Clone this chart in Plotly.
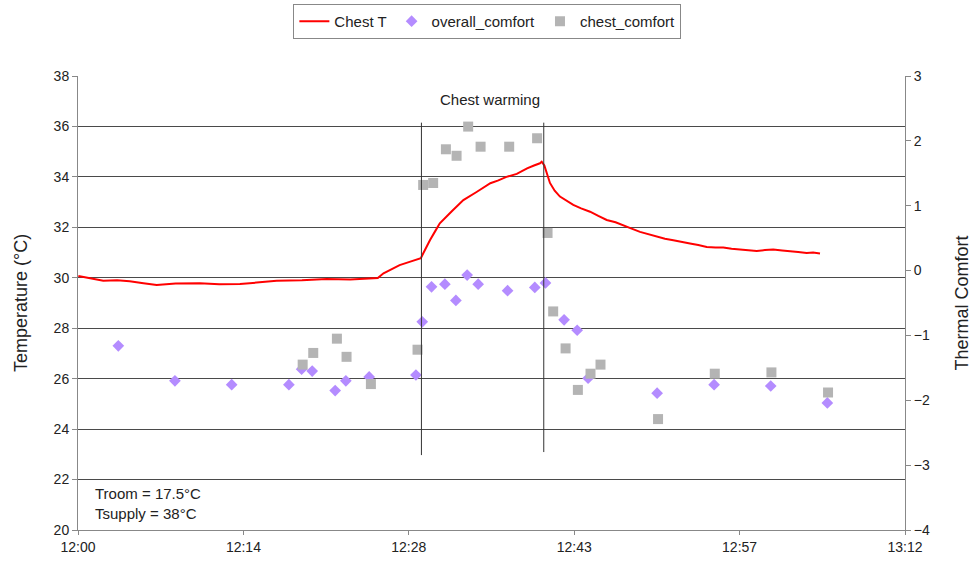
import plotly.graph_objects as go

# ---- data (minutes after 12:00) ----
chest_t_min = [0.03, 1.0, 2.2, 3.4, 4.5, 5.7, 6.85, 8.5, 10.6, 12.3, 14.1, 15.8, 17.3, 19.5,
               21.65, 23.7, 25.7, 26.1, 26.6, 27.3, 28.0, 28.8, 29.6, 29.85, 30.06, 30.35,
               30.65, 31.1, 31.5, 32.5, 33.55, 34.7, 35.9, 36.6, 37.3, 38.2, 39.1, 39.7,
               40.22, 40.37, 40.6, 41.09, 41.5, 41.96, 42.5, 43.12, 43.8, 44.58, 45.3, 46.03,
               46.8, 47.48, 48.2, 48.93, 49.7, 50.38, 51.1, 51.83, 52.5, 53.28, 54.0, 54.74,
               55.5, 56.18, 56.9, 57.64, 58.4, 59.09, 59.8, 60.53, 61.3, 62.0, 62.7, 63.44,
               64.0, 64.6]
chest_t_val = [30.07, 29.98, 29.88, 29.9, 29.86, 29.78, 29.71, 29.77, 29.78, 29.74, 29.75, 29.82,
               29.88, 29.9, 29.95, 29.93, 29.98, 29.99, 30.18, 30.35, 30.5, 30.62, 30.72, 30.78,
               30.97, 31.25, 31.5, 31.85, 32.16, 32.62, 33.08, 33.4, 33.75, 33.86, 34.0, 34.12,
               34.34, 34.45, 34.54, 34.6, 34.45, 33.76, 33.45, 33.22, 33.05, 32.89, 32.75, 32.62,
               32.45, 32.29, 32.2, 32.09, 31.95, 31.82, 31.72, 31.65, 31.55, 31.49, 31.42, 31.36,
               31.3, 31.22, 31.2, 31.2, 31.15, 31.12, 31.08, 31.06, 31.1, 31.12, 31.08, 31.06,
               31.02, 30.98, 31.0, 30.96]

overall_min = [3.51, 8.44, 13.38, 18.36, 19.47, 20.39, 22.39, 23.32, 25.35, 29.42, 29.97, 30.78,
               31.94, 32.90, 33.88, 34.84, 37.40, 39.77, 40.70, 42.32, 43.46, 44.41, 50.42,
               55.38, 60.31, 65.24]
overall_val = [-1.16, -1.70, -1.76, -1.76, -1.52, -1.55, -1.85, -1.70, -1.64, -1.61, -0.79, -0.25,
               -0.21, -0.46, -0.07, -0.21, -0.31, -0.26, -0.19, -0.76, -0.92, -1.66, -1.89,
               -1.76, -1.78, -2.04]

chestc_min = [19.56, 20.48, 22.54, 23.38, 25.50, 29.56, 30.05, 30.92, 32.03, 32.96, 33.97, 35.05,
              37.54, 39.97, 40.88, 41.37, 42.45, 43.52, 44.62, 45.49, 50.50, 55.44, 60.37, 65.30]
chestc_val = [-1.45, -1.27, -1.05, -1.33, -1.75, -1.22, 1.32, 1.35, 1.87, 1.77, 2.22, 1.91,
              1.91, 2.04, 0.58, -0.63, -1.20, -1.84, -1.59, -1.45, -2.29, -1.59, -1.57, -1.88]

x_tick_labels = ["12:00", "12:14", "12:28", "12:43", "12:57", "13:12"]
x_span = 72.0
warming_start = 29.9
warming_end = 40.55
marker_line_bottom = [22.97, 23.09]
marker_line_top = 36.15

FONT = "Liberation Sans, Arial, sans-serif"

fig = go.Figure()
fig.add_trace(go.Scatter(x=chest_t_min, y=chest_t_val, mode="lines", name="Chest T",
                         line=dict(color="#ff0000", width=2), yaxis="y"))
fig.add_trace(go.Scatter(x=overall_min, y=overall_val, mode="markers", name="overall_comfort",
                         marker=dict(symbol="diamond", size=9, color="#b48cff"), yaxis="y2"))
fig.add_trace(go.Scatter(x=chestc_min, y=chestc_val, mode="markers", name="chest_comfort",
                         marker=dict(symbol="square", size=10, color="#b4b4b4"), yaxis="y2"))

tickvals = [i * x_span / (len(x_tick_labels) - 1) for i in range(len(x_tick_labels))]

shapes = []
for xv, yb in zip([warming_start, warming_end], marker_line_bottom):
    shapes.append(dict(type="line", xref="x", yref="y", x0=xv, x1=xv, y0=yb, y1=marker_line_top,
                       line=dict(color="#333333", width=1)))

fig.update_layout(
    width=974, height=567,
    margin=dict(l=78, r=69, t=76, b=37, autoexpand=False),
    paper_bgcolor="white", plot_bgcolor="white",
    font=dict(family=FONT, size=15, color="#222222"),
    showlegend=True,
    legend=dict(orientation="h", x=0.495, xanchor="center", yref="container", y=0.993,
                yanchor="top", bordercolor="#888888", borderwidth=1, font=dict(size=15),
                itemwidth=30, tracegroupgap=0),
    xaxis=dict(range=[0, x_span], tickvals=tickvals, ticktext=x_tick_labels,
               showgrid=False, zeroline=False, showline=True, linecolor="#888888",
               ticks="outside", ticklen=4, tickcolor="#888888", tickfont=dict(size=14)),
    yaxis=dict(range=[20, 38], dtick=2, showgrid=True, gridcolor="#4a4a4a", gridwidth=1,
               zeroline=False, showline=True, linecolor="#888888", ticks="outside",
               ticklen=5, tickcolor="#888888", tickfont=dict(size=14), automargin=False,
               title=dict(text="Temperature (°C)", font=dict(size=18), standoff=21)),
    yaxis2=dict(range=[-4, 3], dtick=1, overlaying="y", side="right", showgrid=False,
                zeroline=False, showline=True, linecolor="#888888", ticks="outside",
                ticklen=5, tickcolor="#888888", tickfont=dict(size=14), automargin=False,
                title=dict(text="Thermal Comfort", font=dict(size=18), standoff=26)),
    shapes=shapes,
    annotations=[
        dict(text="Chest warming", x=35.9, y=37.05, xref="x", yref="y", showarrow=False,
             font=dict(size=15)),
        dict(text="Troom = 17.5°C<br>Tsupply = 38°C", x=1.3, y=21.05, xref="x", yref="y",
             xanchor="left", yanchor="middle", align="left", showarrow=False,
             font=dict(size=15)),
    ],
)

fig.write_html("out.html", config={"displayModeBar": False},
               post_script="document.body.style.margin='0px';document.body.style.overflow='hidden';")
